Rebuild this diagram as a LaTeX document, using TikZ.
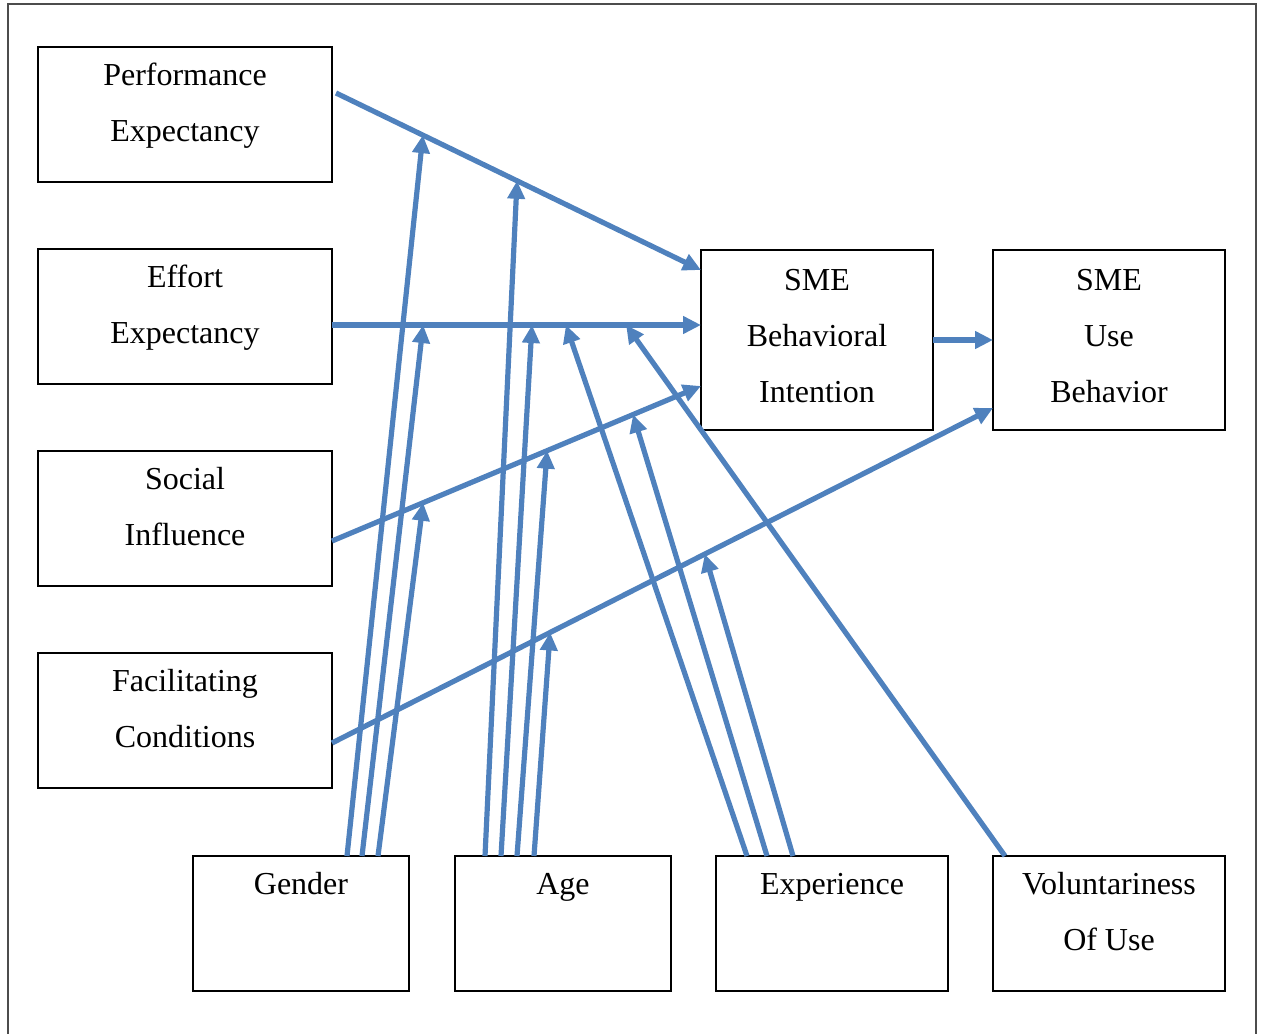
\documentclass[tikz,border=0pt]{standalone}
\usepackage{fontspec}
\setmainfont{Liberation Serif}
\usetikzlibrary{positioning,arrows.meta}
\definecolor{lineblue}{RGB}{79,129,189}

\begin{document}
\begin{tikzpicture}[
  x=0.5pt, y=-0.5pt,
  font=\fontsize{16}{28}\selectfont,
  node distance=33.5pt,
  box/.style={draw, line width=0.9pt, align=center, inner sep=0pt, outer sep=0pt, text depth=12pt, minimum width=147pt, minimum height=67.5pt},
  wide/.style={box, text depth=4pt, minimum width=116pt, minimum height=90pt},
  low/.style={box, minimum width=108pt},
  arrow/.style={-{Triangle[length=9pt,width=8.5pt]}, line width=2.6pt, lineblue},
]
  \useasboundingbox (0,0) rectangle (1262,1033);
  \draw[line width=1pt, black!70] (8,1040) -- (8,4) -- (1256,4) -- (1256,1040);

  % constructs
  \node[box] (pe) at (185,114.5) {Performance\\Expectancy};
  \node[box, below=of pe] (ee) {Effort\\Expectancy};
  \node[box, below=of ee] (si) {Social\\Influence};
  \node[box, below=of si] (fc) {Facilitating\\Conditions};

  \node[wide] (bi) at (817,340) {SME\\Behavioral\\Intention};
  \node[wide, right=30pt of bi] (ub) {SME\\Use\\Behavior};

  % moderators
  \node[low] (gender) at (301,923.5) {Gender\\~};
  \node[low, right=23pt of gender] (age) {Age\\~};
  \node[box, minimum width=116pt, right=22.5pt of age] (exp) {Experience\\~};
  \node[box, minimum width=116pt, right=22.5pt of exp] (vol) {Voluntariness\\Of Use};

  \draw[arrow] ([xshift=2pt,yshift=10.75pt]pe.east) -- ([yshift=35pt]bi.west)
    coordinate[pos=0.238] (pe-g) coordinate[pos=0.496] (pe-a);
  \draw[arrow] ([yshift=-4.25pt]ee.east) -- ([yshift=7.5pt]bi.west)
    coordinate[pos=0.247] (ee-g) coordinate[pos=0.542] (ee-a)
    coordinate[pos=0.634] (ee-e) coordinate[pos=0.797] (ee-v);
  \draw[arrow] ([yshift=-11.25pt]si.east) -- ([yshift=-23pt]bi.west)
    coordinate[pos=0.247] (si-g) coordinate[pos=0.583] (si-a) coordinate[pos=0.816] (si-e);
  \draw[arrow] ([yshift=-11.25pt]fc.east) -- ([yshift=-34pt]ub.west)
    coordinate[pos=0.330] (fc-a) coordinate[pos=0.564] (fc-e);
  \draw[arrow] (bi) -- (ub);

  \draw[arrow] ([xshift=23pt]gender.north) -- (pe-g);
  \draw[arrow] ([xshift=30.5pt]gender.north) -- (ee-g);
  \draw[arrow] ([xshift=38.5pt]gender.north) -- (si-g);

  \draw[arrow] ([xshift=-39pt]age.north) -- (pe-a);
  \draw[arrow] ([xshift=-31pt]age.north) -- (ee-a);
  \draw[arrow] ([xshift=-23pt]age.north) -- (si-a);
  \draw[arrow] ([xshift=-14.5pt]age.north) -- (fc-a);

  \draw[arrow] ([xshift=-42.5pt]exp.north) -- (ee-e);
  \draw[arrow] ([xshift=-32.5pt]exp.north) -- (si-e);
  \draw[arrow] ([xshift=-19.5pt]exp.north) -- (fc-e);

  \draw[arrow] ([xshift=-52pt]vol.north) -- (ee-v);
\end{tikzpicture}
\end{document}
